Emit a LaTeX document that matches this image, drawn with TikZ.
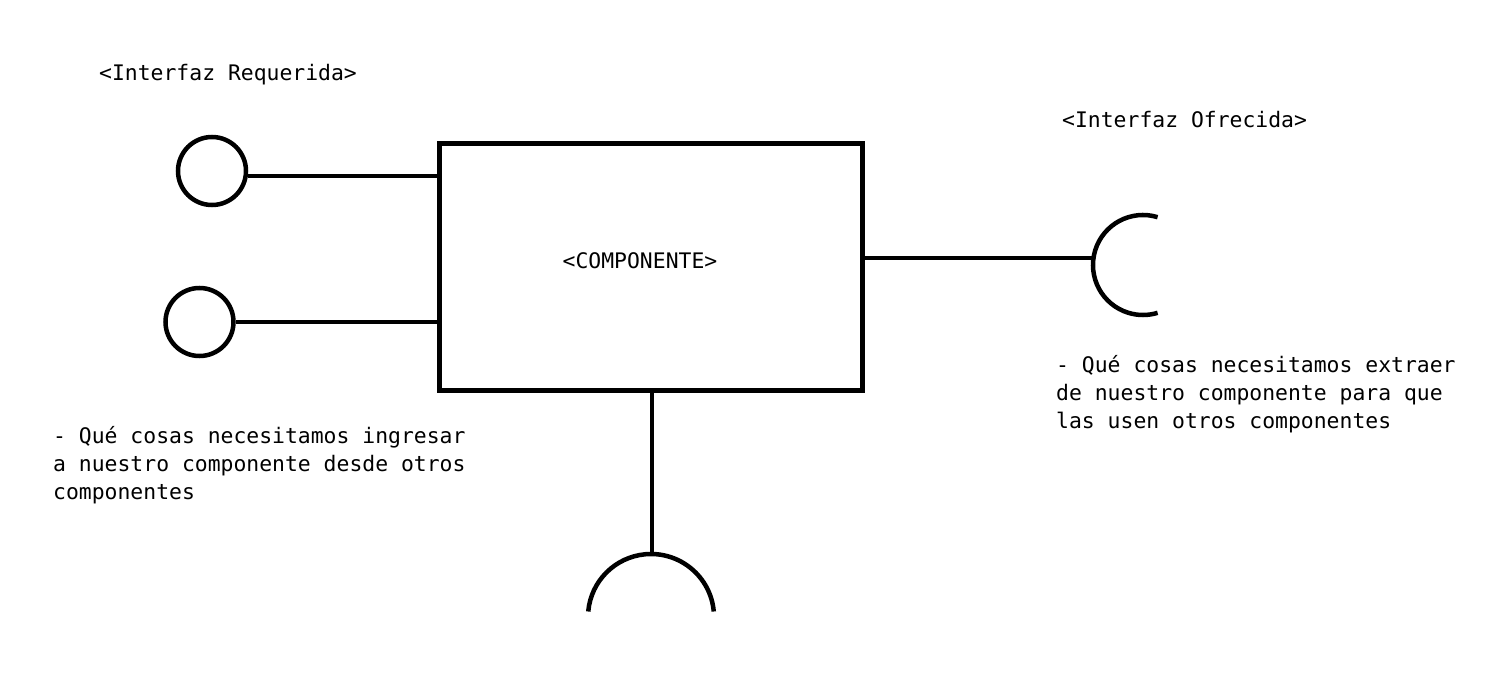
\documentclass[tikz,border=0pt]{standalone}
\usepackage{fontspec}
\setmonofont{DejaVu Sans Mono}
\begin{document}
\begin{tikzpicture}[x=1pt,y=1pt,
  txt/.style={inner sep=0pt,anchor=base west,align=left,
    font=\ttfamily\fontsize{21.4}{27.6}\selectfont},
  conn/.style={line width=4.5pt},
  iface/.style={circle,draw,line width=4.5pt,minimum size=68pt,inner sep=0pt},
  compbox/.style={rectangle,draw,line width=5pt,minimum width=423pt,minimum height=246.5pt,inner sep=0pt}]
\useasboundingbox (0,0) rectangle (1505,-690);
% component
\node[compbox] (comp) at (650.5,-266.75) {};
\node[txt,anchor=base] (complbl) at (640,-268) {<COMPONENTE>};
% required interfaces
\node[iface] (r1) at (212,-171) {};
\node[iface] (r2) at (199.5,-322) {};
\draw[conn] (r1.-8) -- (r1.-8 -| comp.west);
\draw[conn] (r2.east) -- (r2.east -| comp.west);
% provided interface (right)
\coordinate (p1) at (1093.5,-258);
\draw[conn] (comp.east |- p1) -- (p1);
\draw[conn] (1143,-265) ++(73:50) arc[start angle=73,end angle=287,radius=50];
% provided interface (bottom)
\coordinate (p2) at (652,-554);
\draw[conn] (comp.south -| p2) -- (p2);
\draw[conn] (651,-617) ++(5:63) arc[start angle=5,end angle=175,radius=63];
% labels
\node[txt] (lreq) at (99,-81) {<Interfaz Requerida>};
\node[txt] (lofr) at (1062,-128) {<Interfaz Ofrecida>};
\node[txt] (dreq) at (53,-499) {- Qué cosas necesitamos ingresar\\a nuestro componente desde otros\\componentes};
\node[txt] (dofr) at (1056,-428) {- Qué cosas necesitamos extraer\\de nuestro componente para que\\las usen otros componentes};
\end{tikzpicture}
\end{document}
